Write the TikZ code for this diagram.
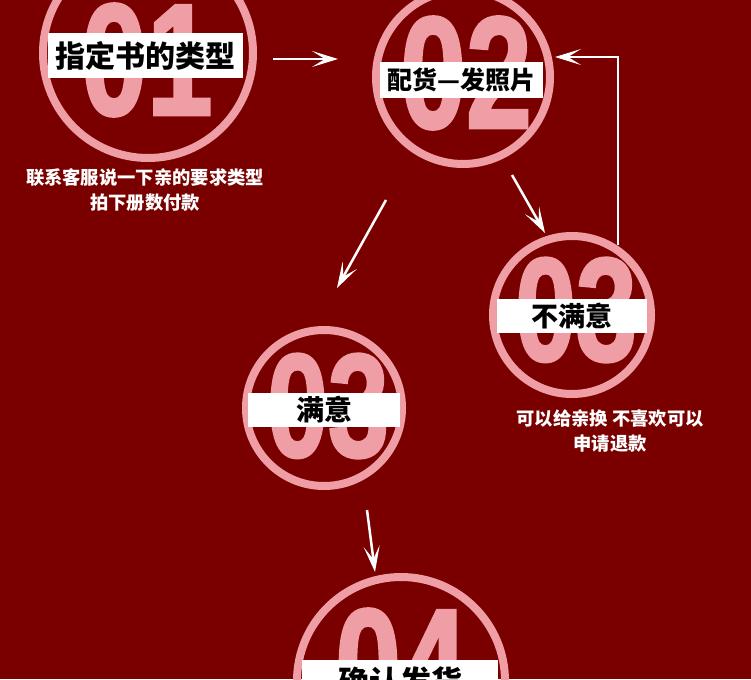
\documentclass[tikz,border=0pt]{standalone}
\usepackage{fontspec}
\newfontfamily\cjk{Noto Sans CJK SC}
\newfontfamily\numfont[FakeStretch=0.74, FakeBold=1.5]{Liberation Sans}
\usetikzlibrary{arrows.meta}
\definecolor{maroon}{HTML}{7A0000}
\definecolor{rosy}{HTML}{F09EA6}

\begin{document}
\begin{tikzpicture}[x=1pt, y=-1pt,
  ring/.style={circle, draw=rosy, line width=8pt, minimum size=#1, inner sep=0pt},
  numeral/.style={text=rosy, inner sep=0pt, font=\fontsize{#1}{#1}\selectfont\numfont\bfseries},
  bar/.style={fill=white, inner sep=0pt, minimum width=#1, text=black},
  caption/.style={text=white, align=center, inner sep=0pt,
    font=\fontsize{18.3}{25}\selectfont\cjk\bfseries},
  flow/.style={draw=white, line width=2.5pt,
    -{Stealth[length=26pt, width=16pt, inset=13pt]}}]
  \useasboundingbox (0,0) rectangle (751,679);
  \fill[maroon] (0,0) rectangle (751,679);
  % rings
  \foreach \n/\x/\y/\d in {c1/148/53/210, c2/463/77/174, c3/572/315/158,
    c4/324/408/156, c5/401/681/208}
    \node[ring=\d] (\n) at (\x,\y) {};
  % numbers
  \node[numeral=160] (n1) at (147,60) {01};
  \node[numeral=160] (n2) at (466,73) {02};
  \node[numeral=148] (n3) at (576,310) {03};
  \node[numeral=148] (n4) at (328,406) {03};
  \node[numeral=160] (n5) at (401,665) {04};
  % labels
  \node[bar=195, minimum height=45, font=\fontsize{30}{30}\selectfont\cjk\bfseries]
    (l1) at (145.5,55.5) {指定书的类型};
  \node[bar=163, minimum height=36, font=\fontsize{25}{25}\selectfont\cjk\bfseries]
    (l2) at (461.5,80) {配货—发照片};
  \node[bar=150, minimum height=34, font=\fontsize{27}{27}\selectfont\cjk\bfseries]
    (l3) at (572,316) {不满意};
  \node[bar=152, minimum height=34, font=\fontsize{28}{28}\selectfont\cjk\bfseries]
    (l4) at (324,410) {满意};
  \node[bar=196, minimum height=45, font=\fontsize{31}{31}\selectfont\cjk\bfseries]
    (l5) at (400,682) {确认发货};
  \node[caption] (t1) at (145,190) {联系客服说一下亲的要求类型\\拍下册数付款};
  \node[caption] (t3) at (610,431) {可以给亲换 不喜欢可以\\申请退款};
  % arrows
  \coordinate (a1) at (273,59);  \coordinate (b1) at (338,59);
  \coordinate (a2) at (618,245); \coordinate (b2) at (555,57);
  \coordinate (a3) at (512,175); \coordinate (b3) at (545,233);
  \coordinate (a4) at (386,200); \coordinate (b4) at (337,288);
  \coordinate (a5) at (367,510); \coordinate (b5) at (375,572);
  \draw[flow] (a1) -- (b1);
  \draw[flow] (a2) |- (b2);
  \draw[flow] (a3) -- (b3);
  \draw[flow] (a4) -- (b4);
  \draw[flow] (a5) -- (b5);
\end{tikzpicture}
\end{document}
